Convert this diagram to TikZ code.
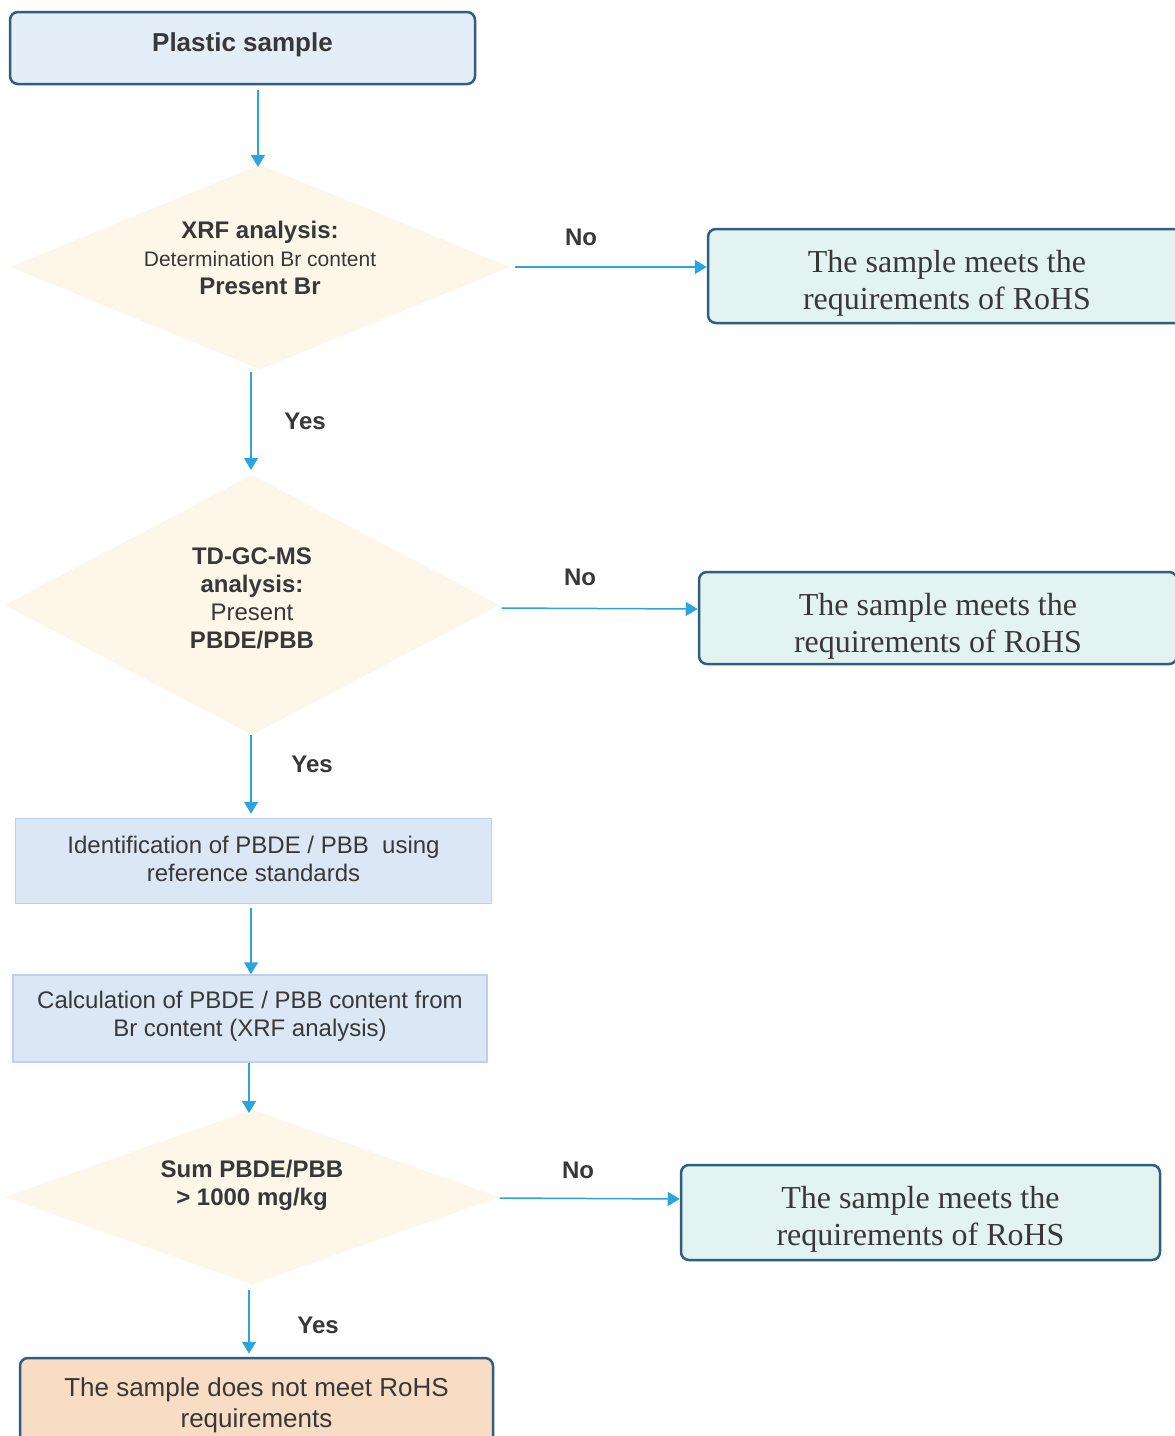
\documentclass[tikz,border=0pt]{standalone}
\usepackage{fontspec}
\setmainfont{Liberation Serif}
\setsansfont{Liberation Sans}
\usetikzlibrary{shapes.geometric,arrows.meta}
\definecolor{txt}{HTML}{383838}
\definecolor{arr}{HTML}{2AA5DF}
\definecolor{darkedge}{HTML}{2F5F80}
\definecolor{startfill}{HTML}{E3EEF8}
\definecolor{okfill}{HTML}{E3F3F1}
\definecolor{procfill}{HTML}{DCE7F5}
\definecolor{procedge}{HTML}{BBD1EE}
\definecolor{decfill}{HTML}{FCF7E8}
\definecolor{badfill}{HTML}{F8DCC4}
\newcommand\shifted[2]{\raisebox{#1}[\height][\depth]{\begin{tabular}{@{}c@{}}#2\end{tabular}}}
\tikzset{
  startbox/.style={draw=darkedge, line width=2.5pt, rounded corners=8pt, fill=startfill,
    minimum width=465pt, minimum height=72pt, text=txt, font=\sffamily\bfseries\fontsize{26}{30}\selectfont},
  okbox/.style={draw=darkedge, line width=2.5pt, rounded corners=8pt, fill=okfill,
    minimum width=478pt, minimum height=94pt, text=txt, font=\rmfamily\fontsize{32}{37}\selectfont},
  procbox/.style={draw=procedge, line width=1.5pt, fill=procfill,
    minimum width=476pt, minimum height=85pt, text=txt, font=\sffamily\fontsize{24}{28}\selectfont},
  badbox/.style={draw=darkedge, line width=2.5pt, rounded corners=8pt, fill=badfill,
    minimum width=473pt, minimum height=88pt, text=txt, font=\sffamily\fontsize{26}{31}\selectfont},
  decision/.style={diamond, fill=decfill, draw=none, inner sep=0pt, text=txt,
    font=\sffamily\fontsize{24}{28}\selectfont},
  flow/.style={draw=arr, line width=1.5pt, -{Triangle[width=14pt,length=12pt]}},
  lab/.style={text=txt, font=\sffamily\bfseries\fontsize{24}{28}\selectfont},
}
\begin{document}
\begin{tikzpicture}[x=1pt,y=-1pt]
\useasboundingbox (0,0) rectangle (1175,1436);
\clip (0,0) rectangle (1175,1436);
\fill[white] (0,0) rectangle (1175,1436);

\node[startbox] (start) at (242.5,48) {\shifted{3pt}{Plastic sample}};

\node[decision, aspect=2.44, minimum width=500pt, minimum height=205pt] (d1) at (260,267)
  {\shifted{6pt}{\textbf{XRF analysis:}\\{\fontsize{21}{27}\selectfont Determination Br content}\\ \textbf{Present Br}}};
\node[okbox] (ok1) at (947,276) {\shifted{-8pt}{The sample meets the\\requirements of RoHS}};

\node[decision, aspect=1.9, minimum width=495pt, minimum height=260pt] (d2) at (252,605)
  {\shifted{4pt}{\textbf{TD-GC-MS}\\\textbf{analysis:}\\Present\\\textbf{PBDE/PBB}}};
\node[okbox, minimum height=92pt] (ok2) at (938,618) {\shifted{-9pt}{The sample meets the\\requirements of RoHS}};

\node[procbox] (ident) at (253.5,861) {\shifted{-1pt}{Identification of PBDE / PBB\ \ using\\reference standards}};
\node[procbox, minimum width=474pt, minimum height=87pt] (calc) at (250,1018.5) {\shifted{2pt}{Calculation of PBDE / PBB content from\\Br content (XRF analysis)}};

\node[decision, aspect=2.83, minimum width=495pt, minimum height=175pt] (d3) at (252,1197)
  {\shifted{11pt}{\textbf{Sum PBDE/PBB}\\\textbf{> 1000 mg/kg}}};
\node[okbox, minimum width=479pt, minimum height=95pt] (ok3) at (920.5,1212.5) {\shifted{-7pt}{The sample meets the\\requirements of RoHS}};

\node[badbox] (bad) at (256.5,1402) {\shifted{-4pt}{The sample does not meet RoHS\\requirements}};

% connectors
\draw[flow, shorten <=5pt] (start.south -| 258,0) -- (258,167);
\draw[flow, shorten <=2pt] (d1.south -| 251,0) -- (251,470);
\draw[flow, shorten <=5pt] (d1.east) -- (d1.east -| ok1.west);
\draw[flow, shorten <=2pt] (d2.east |- 0,608) -- (ok2.west |- 0,609);
\draw[flow, shorten >=4pt] (d2.south -| 251,0) -- (ident.north -| 251,0);
\draw[flow, shorten <=4pt] (ident.south -| 251,0) -- (calc.north -| 251,0);
\draw[flow] (calc.south -| 249,0) -- (249,1113);
\draw[flow] (d3.east |- 0,1198) -- (ok3.west |- 0,1199);
\draw[flow, shorten <=5pt, shorten >=3pt] (d3.south -| 249,0) -- (bad.north -| 249,0);

% labels
\node[lab] (no1) at (581,237) {No};
\node[lab] (yes1) at (305,421) {Yes};
\node[lab] (no2) at (580,577) {No};
\node[lab] (yes2) at (312,764) {Yes};
\node[lab] (no3) at (578,1170) {No};
\node[lab] (yes3) at (318,1325) {Yes};
\end{tikzpicture}
\end{document}
